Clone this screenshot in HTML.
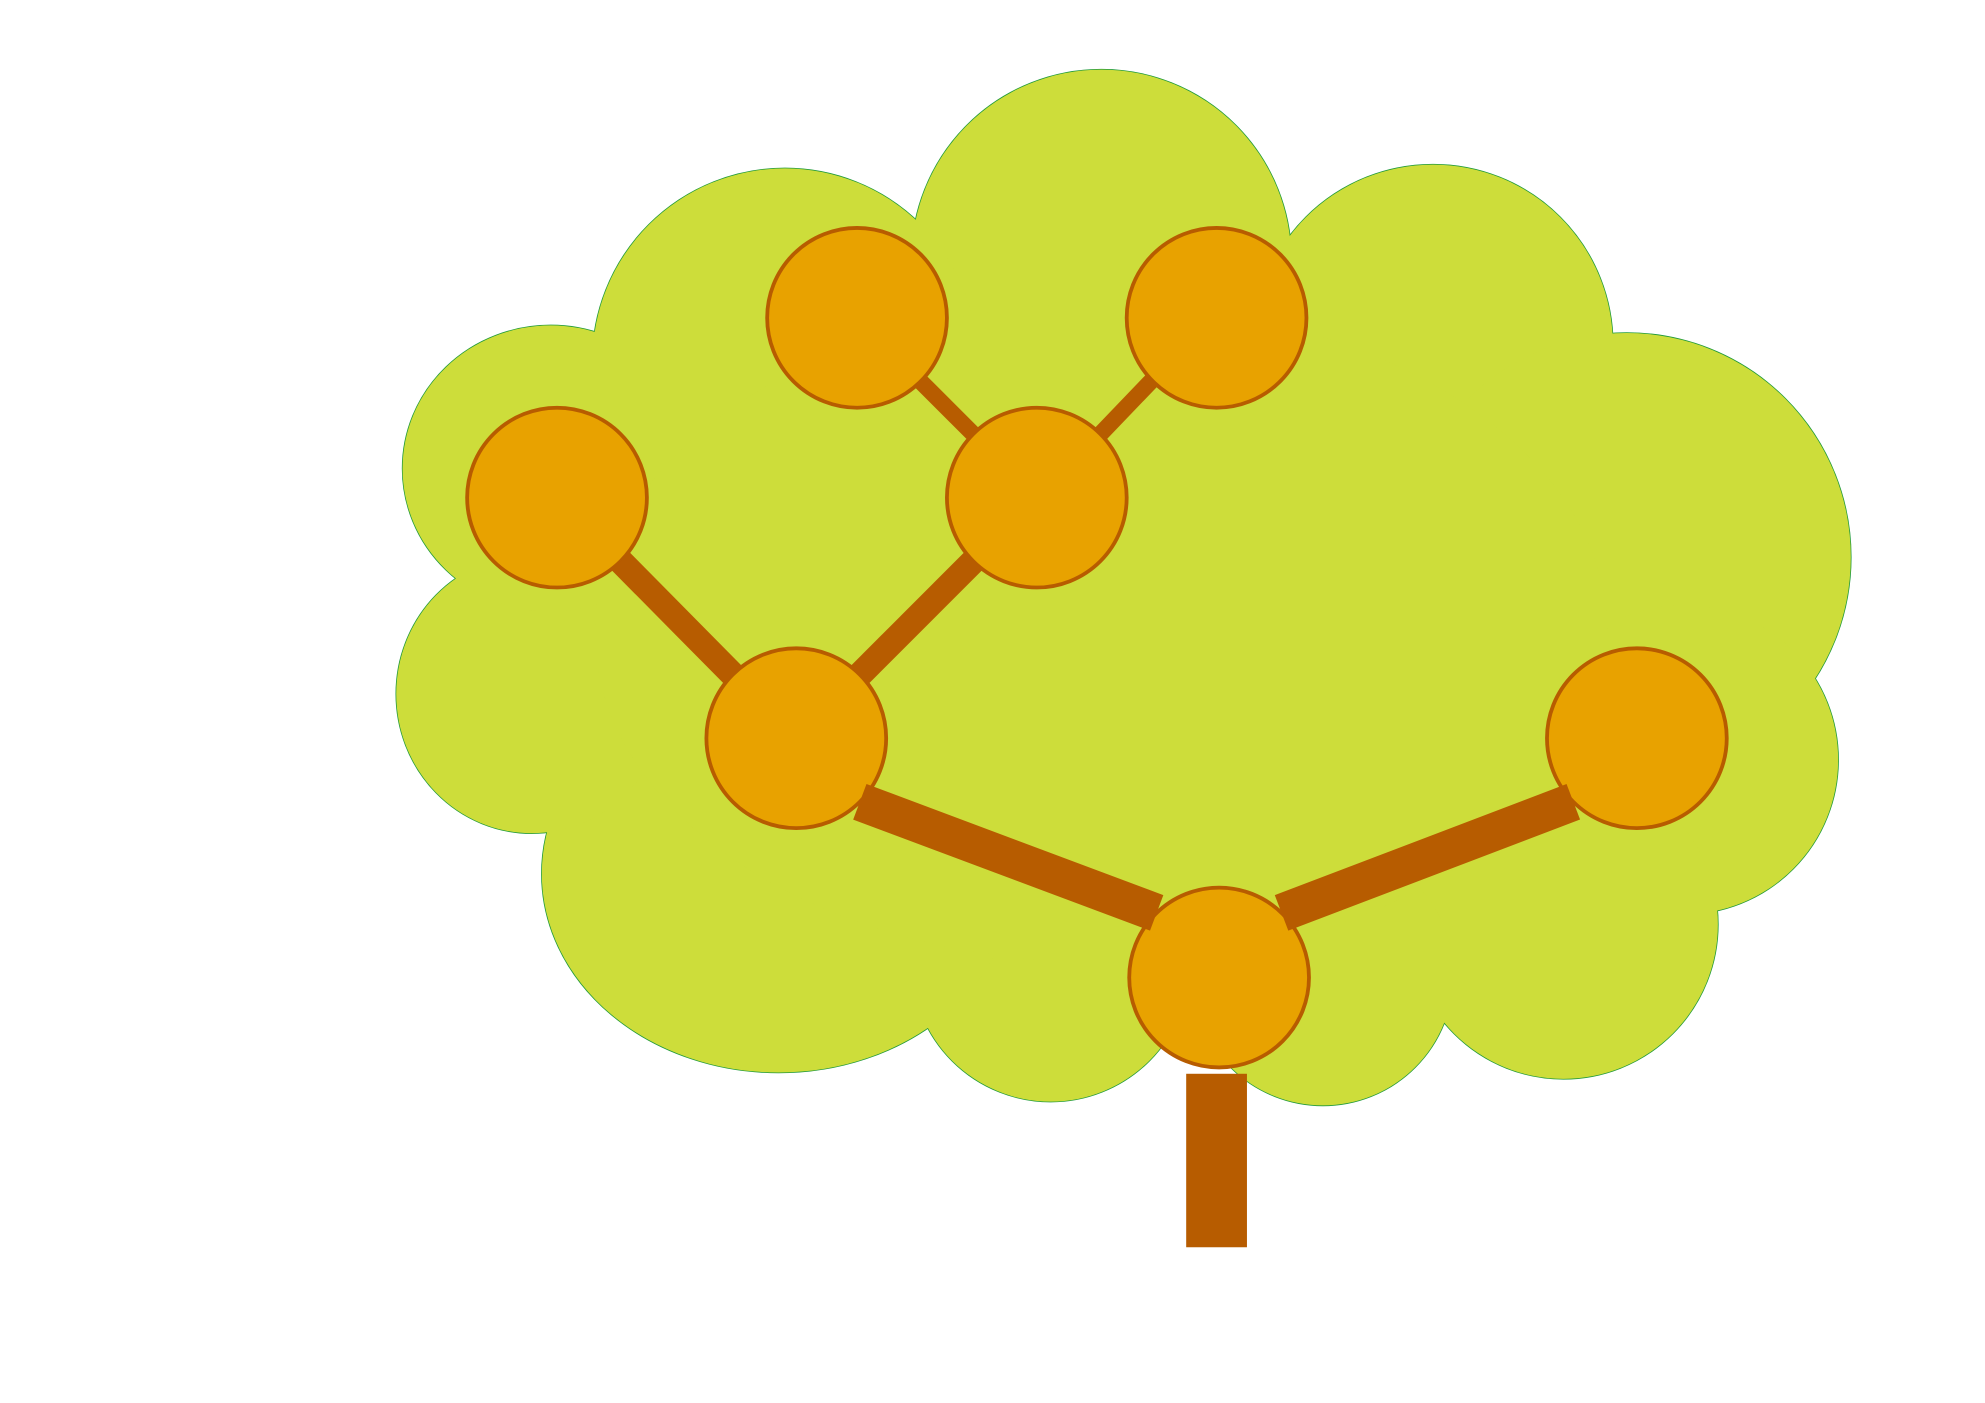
<!DOCTYPE html>
<html><head><meta charset="utf-8"><style>html,body{margin:0;padding:0;background:#fff}svg{display:block}</style></head>
<body>
<svg id="chart" width="1985" height="1403" viewBox="0 0 1568 1108" preserveAspectRatio="none" xmlns="http://www.w3.org/2000/svg">
<g id="cloud"></g>
<rect x="937" y="848" width="48" height="137" fill="#b75c00"/>
<g id="nodes"></g>
<g id="edges"></g>
</svg>
<script>
const nodeNames=["root","a","b","c","d","e","f"];
const nodeX=[963,629,1293,440,819,677,961];
const nodeY=[772,583,583,393,393,251,251];
const edgeFrom=[0,0,1,1,4,4];
const edgeTo=[1,2,3,4,5,6];
const edgeWidth=[30,30,20,20,13,13];
const fromAngle=[-134,-46,-135,-45,-135,-45];
const toAngle=[45,135,45,135,45,136];
const R=71;
const NS="http://www.w3.org/2000/svg";
const lobes=[[870,205,150,150],[1132,272,142,142],[1285,440,177,177],[1330,600,122,122],[1235,730,122,122],[1045,770,103,103],[830,760,110,110],[615,690,187,157],[420,548,107,110],[435,370,117,113],[620,285,152,152],[870,500,400,260]];
const cloud=document.getElementById('cloud');
for(const pass of [0,1]){
  lobes.forEach((l,i)=>{
    const e=document.createElementNS(NS,'ellipse');
    
    
    e.setAttribute('cx',l[0]);e.setAttribute('cy',l[1]);e.setAttribute('rx',l[2]);e.setAttribute('ry',l[3]);
    e.setAttribute('fill','#cddd3a');
    if(pass===0){e.setAttribute('stroke','#1f9a3a');e.setAttribute('stroke-width','1.2');}
    else{e.setAttribute('stroke','none');}
    cloud.appendChild(e);
  });
}
const ng=document.getElementById('nodes');
nodeX.forEach((x,i)=>{
  const c=document.createElementNS(NS,'circle');
  
  
  c.setAttribute('cx',x);c.setAttribute('cy',nodeY[i]);c.setAttribute('r',R);
  c.setAttribute('fill','#e8a200');c.setAttribute('stroke','#b75c00');c.setAttribute('stroke-width','3');
  ng.appendChild(c);
});
const eg=document.getElementById('edges');
edgeFrom.forEach((f,i)=>{
  const t=edgeTo[i];
  const a1=fromAngle[i]*Math.PI/180,a2=toAngle[i]*Math.PI/180;
  const l=document.createElementNS(NS,'line');
  
  
  l.setAttribute('x1',nodeX[f]+R*Math.cos(a1));l.setAttribute('y1',nodeY[f]+R*Math.sin(a1));
  l.setAttribute('x2',nodeX[t]+R*Math.cos(a2));l.setAttribute('y2',nodeY[t]+R*Math.sin(a2));
  l.setAttribute('stroke','#b75c00');l.setAttribute('stroke-width',edgeWidth[i]);
  eg.appendChild(l);
});
</script>
</body></html>
